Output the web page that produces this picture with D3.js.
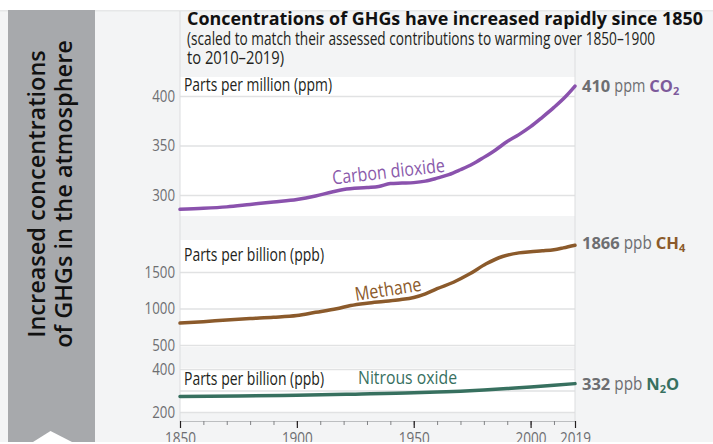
<!DOCTYPE html>
<html>
<head>
<meta charset="utf-8">
<script src="https://cdn.jsdelivr.net/npm/d3@7"></script>
<style>
    body { margin: 0; background: #f3f4f5; }
    svg { display: block; }
</style>
</head>
<body>
<div class="chart"></div>
<script>
// values
var co2Years = [1850, 1860, 1870, 1880, 1890, 1900, 1908, 1915, 1920, 1930, 1935, 1940, 1945, 1950, 1955, 1960, 1965, 1970, 1975, 1980, 1985, 1990, 1995, 2000, 2005, 2010, 2015, 2019];
var co2Values = [285.5, 286.5, 288, 290.5, 293, 295.5, 299, 303, 305.5, 307.5, 308.5, 311.5, 312, 312.5, 314, 317, 320.5, 325.5, 331, 338, 345.5, 354, 361, 369, 378.5, 388.5, 399.5, 410];

var ch4Years = [1850, 1860, 1870, 1880, 1890, 1900, 1908, 1917, 1923, 1930, 1937, 1944, 1950, 1955, 1960, 1967, 1974, 1981, 1988, 1995, 2000, 2005, 2010, 2014, 2019];
var ch4Values = [800, 820, 842, 862, 880, 905, 948, 996, 1040, 1072, 1096, 1120, 1150, 1200, 1272, 1360, 1475, 1612, 1712, 1762, 1778, 1790, 1805, 1830, 1866];

var n2oYears = [1850, 1875, 1900, 1925, 1950, 1960, 1970, 1980, 1990, 2000, 2010, 2019];
var n2oValues = [272, 274, 278, 283, 289, 293, 297, 302, 309, 316, 324, 332];

var co2Ticks = [300, 350, 400];
var ch4Ticks = [500, 1000, 1500];
var n2oGrid = [200, 300, 400];
var n2oTicks = [200, 400];

var majorYears = [1850, 1900, 1950, 2000, 2019];
var minorYears = d3.range(1850, 2020, 10);

var width = 713,
    height = 444;
var sans = '"Open Sans", sans-serif';
var grey = "#6d6e71";
var ink = "#231f20";

// the original uses a condensed face; squeeze Open Sans to the measured widths
const fit = (sel, w) => sel.attr("textLength", w).attr("lengthAdjust", "spacingAndGlyphs");

var svg = d3
    .select(".chart")
    .append("svg")
    .attr("width", width)
    .attr("height", height);

svg.append("rect").attr("width", width).attr("height", height).attr("fill", "#f3f4f5");
svg.append("rect").attr("width", width).attr("height", 10).attr("fill", "#fff");
svg.append("rect").attr("y", 10).attr("width", width).attr("height", 1.5).attr("fill", "#e6e7e8");

// grey side panel
svg.append("rect")
    .attr("x", 8)
    .attr("y", 10)
    .attr("width", 87)
    .attr("height", 432)
    .attr("fill", "#a7a9ac");
svg.append("path")
    .attr("d", "M33,442 L50.5,431 L72,442 Z")
    .attr("fill", "#fff");

var side = svg.append("g")
    .attr("transform", "translate(45,194) rotate(-90)")
    .attr("font-family", sans)
    .attr("font-weight", 600)
    .attr("font-size", 23.5)
    .attr("fill", "#111")
    .attr("text-anchor", "middle");
side.append("text").attr("y", 0).text("Increased concentrations");
side.append("text").attr("y", 27).text("of GHGs in the atmosphere");

// title
svg.append("text")
    .attr("x", 187)
    .attr("y", 25)
    .attr("font-family", sans)
    .attr("font-weight", 700)
    .attr("font-size", 17.6)
    .attr("fill", "#111")
    .text("Concentrations of GHGs have increased rapidly since 1850")
    .call(fit, 516);
svg.append("text")
    .attr("x", 187)
    .attr("y", 44.5)
    .attr("font-family", sans)
    .attr("font-size", 18.3)
    .attr("fill", ink)
    .text("(scaled to match their assessed contributions to warming over 1850\u20131900")
    .call(fit, 468);
svg.append("text")
    .attr("x", 187)
    .attr("y", 63.5)
    .attr("font-family", sans)
    .attr("font-size", 18.3)
    .attr("fill", ink)
    .text("to 2010\u20132019)")
    .call(fit, 97);

var x = d3.scaleLinear().domain([1850, 2019]).range([180, 575]);
var plotW = x.range()[1] - x.range()[0];

var panels = [
    {
        years: co2Years, values: co2Values, domain: [300, 400], range: [195, 96], band: [77, 216],
        grid: co2Ticks, labels: co2Ticks, color: "#8a52ad",
        unit: "Parts per million (ppm)", unitY: 91, unitW: 148
    },
    {
        years: ch4Years, values: ch4Values, domain: [500, 1500], range: [345, 272], band: [240, 347],
        grid: ch4Ticks, labels: ch4Ticks, color: "#8b5a2b",
        unit: "Parts per billion (ppb)", unitY: 261, unitW: 140
    },
    {
        years: n2oYears, values: n2oValues, domain: [200, 400], range: [412, 369], band: [368, 413],
        grid: n2oGrid, labels: n2oTicks, color: "#37705f",
        unit: "Parts per billion (ppb)", unitY: 385, unitW: 140
    }
];

panels.forEach((p) => {
    p.y = d3.scaleLinear().domain(p.domain).range(p.range);

    svg.append("rect")
        .attr("x", x.range()[0])
        .attr("y", p.band[0])
        .attr("width", plotW)
        .attr("height", p.band[1] - p.band[0])
        .attr("fill", "#fff");

    svg.append("g")
        .attr("transform", `translate(${x.range()[0]},0)`)
        .call(
            d3.axisLeft(p.y)
                .tickValues(p.grid)
                .tickSize(-plotW)
                .tickPadding(5)
                .tickFormat((d) => (p.labels.includes(d) ? d : ""))
        )
        .attr("font-family", sans)
        .attr("font-size", 16.5)
        .call((g) => g.select(".domain").remove())
        .call((g) => g.selectAll("line").attr("stroke", "#e1e2e3").attr("stroke-width", 1.3))
        .call((g) => g.selectAll("text").attr("fill", grey).attr("textLength", (d) => String(d).length * 7.6).attr("lengthAdjust", "spacingAndGlyphs"));

    svg.append("text")
        .attr("x", 184)
        .attr("y", p.unitY)
        .attr("font-family", sans)
        .attr("font-size", 17.5)
        .attr("fill", ink)
        .text(p.unit)
        .call(fit, p.unitW);
});

// frame lines
svg.append("line")
    .attr("x1", 180).attr("x2", 180)
    .attr("y1", 11).attr("y2", 421)
    .attr("stroke", "#dcdddf");
svg.append("line")
    .attr("x1", 575).attr("x2", 575)
    .attr("y1", 48).attr("y2", 421)
    .attr("stroke", "#dcdddf");

// series lines
panels.forEach((p) => {
    var line = d3
        .line()
        .x((d, i) => x(p.years[i]))
        .y((d) => p.y(d))
        .curve(d3.curveMonotoneX);
    svg.append("path")
        .datum(p.values)
        .attr("d", line)
        .attr("fill", "none")
        .attr("stroke", p.color)
        .attr("stroke-width", 3.5)
        .attr("stroke-linejoin", "round")
        .attr("stroke-linecap", "round");
});

// inline labels
svg.append("text")
    .attr("transform", "translate(333,184.5) rotate(-6.5)")
    .attr("font-family", sans)
    .attr("font-size", 19)
    .attr("fill", "#8a5aab")
    .text("Carbon dioxide")
    .call(fit, 113);
svg.append("text")
    .attr("transform", "translate(356,301) rotate(-9)")
    .attr("font-family", sans)
    .attr("font-weight", 500)
    .attr("font-size", 19)
    .attr("fill", "#8b5a2b")
    .text("Methane")
    .call(fit, 67);
svg.append("text")
    .attr("x", 358)
    .attr("y", 384)
    .attr("font-family", sans)
    .attr("font-size", 19)
    .attr("fill", "#37705f")
    .text("Nitrous oxide")
    .call(fit, 99);

// end labels
var endLabels = [
    { value: "410", unit: "ppm", unitW: 31, gas: "CO", sub: "2", tail: "", color: "#7d5a9b", y: 92 },
    { value: "1866", unit: "ppb", unitW: 28, gas: "CH", sub: "4", tail: "", color: "#8b5a2b", y: 249 },
    { value: "332", unit: "ppb", unitW: 28, gas: "N", sub: "2", tail: "O", color: "#37705f", y: 390 }
];
endLabels.forEach((d) => {
    var t = svg.append("text")
        .attr("x", 582)
        .attr("y", d.y)
        .attr("font-family", sans)
        .attr("font-size", 16.5);
    t.append("tspan").attr("font-weight", 700).attr("fill", grey).text(d.value);
    t.append("tspan")
        .attr("dx", 4)
        .attr("font-size", 17.5)
        .attr("fill", grey)
        .text(d.unit)
        .call(fit, d.unitW);
    t.append("tspan").attr("dx", 4).attr("font-weight", 700).attr("fill", d.color).text(d.gas);
    t.append("tspan")
        .attr("font-weight", 700)
        .attr("font-size", 11)
        .attr("dy", 3)
        .attr("fill", d.color)
        .text(d.sub);
    if (d.tail) {
        t.append("tspan")
            .attr("font-weight", 700)
            .attr("dy", -3)
            .attr("fill", d.color)
            .text(d.tail);
    }
});

// x axis
svg.append("g")
    .attr("transform", "translate(0,421)")
    .call(d3.axisBottom(x).tickValues(minorYears).tickSize(4).tickSizeOuter(0).tickFormat(""))
    .call((g) => g.select(".domain").attr("stroke", "#bcbec0"))
    .call((g) => g.selectAll("line").attr("stroke", "#808285"));
svg.append("g")
    .attr("transform", "translate(0,421)")
    .call(d3.axisBottom(x).tickValues(majorYears).tickSize(7).tickPadding(4).tickFormat(d3.format("d")))
    .attr("font-family", sans)
    .attr("font-size", 16.5)
    .call((g) => g.select(".domain").remove())
    .call((g) => g.selectAll("line").attr("stroke", ink).attr("stroke-width", 1.2))
    .call((g) => g.selectAll("text").attr("fill", grey).attr("textLength", 31).attr("lengthAdjust", "spacingAndGlyphs"));

svg.append("rect").attr("y", 442).attr("width", width).attr("height", 2).attr("fill", "#fff");
</script>
</body>
</html>
